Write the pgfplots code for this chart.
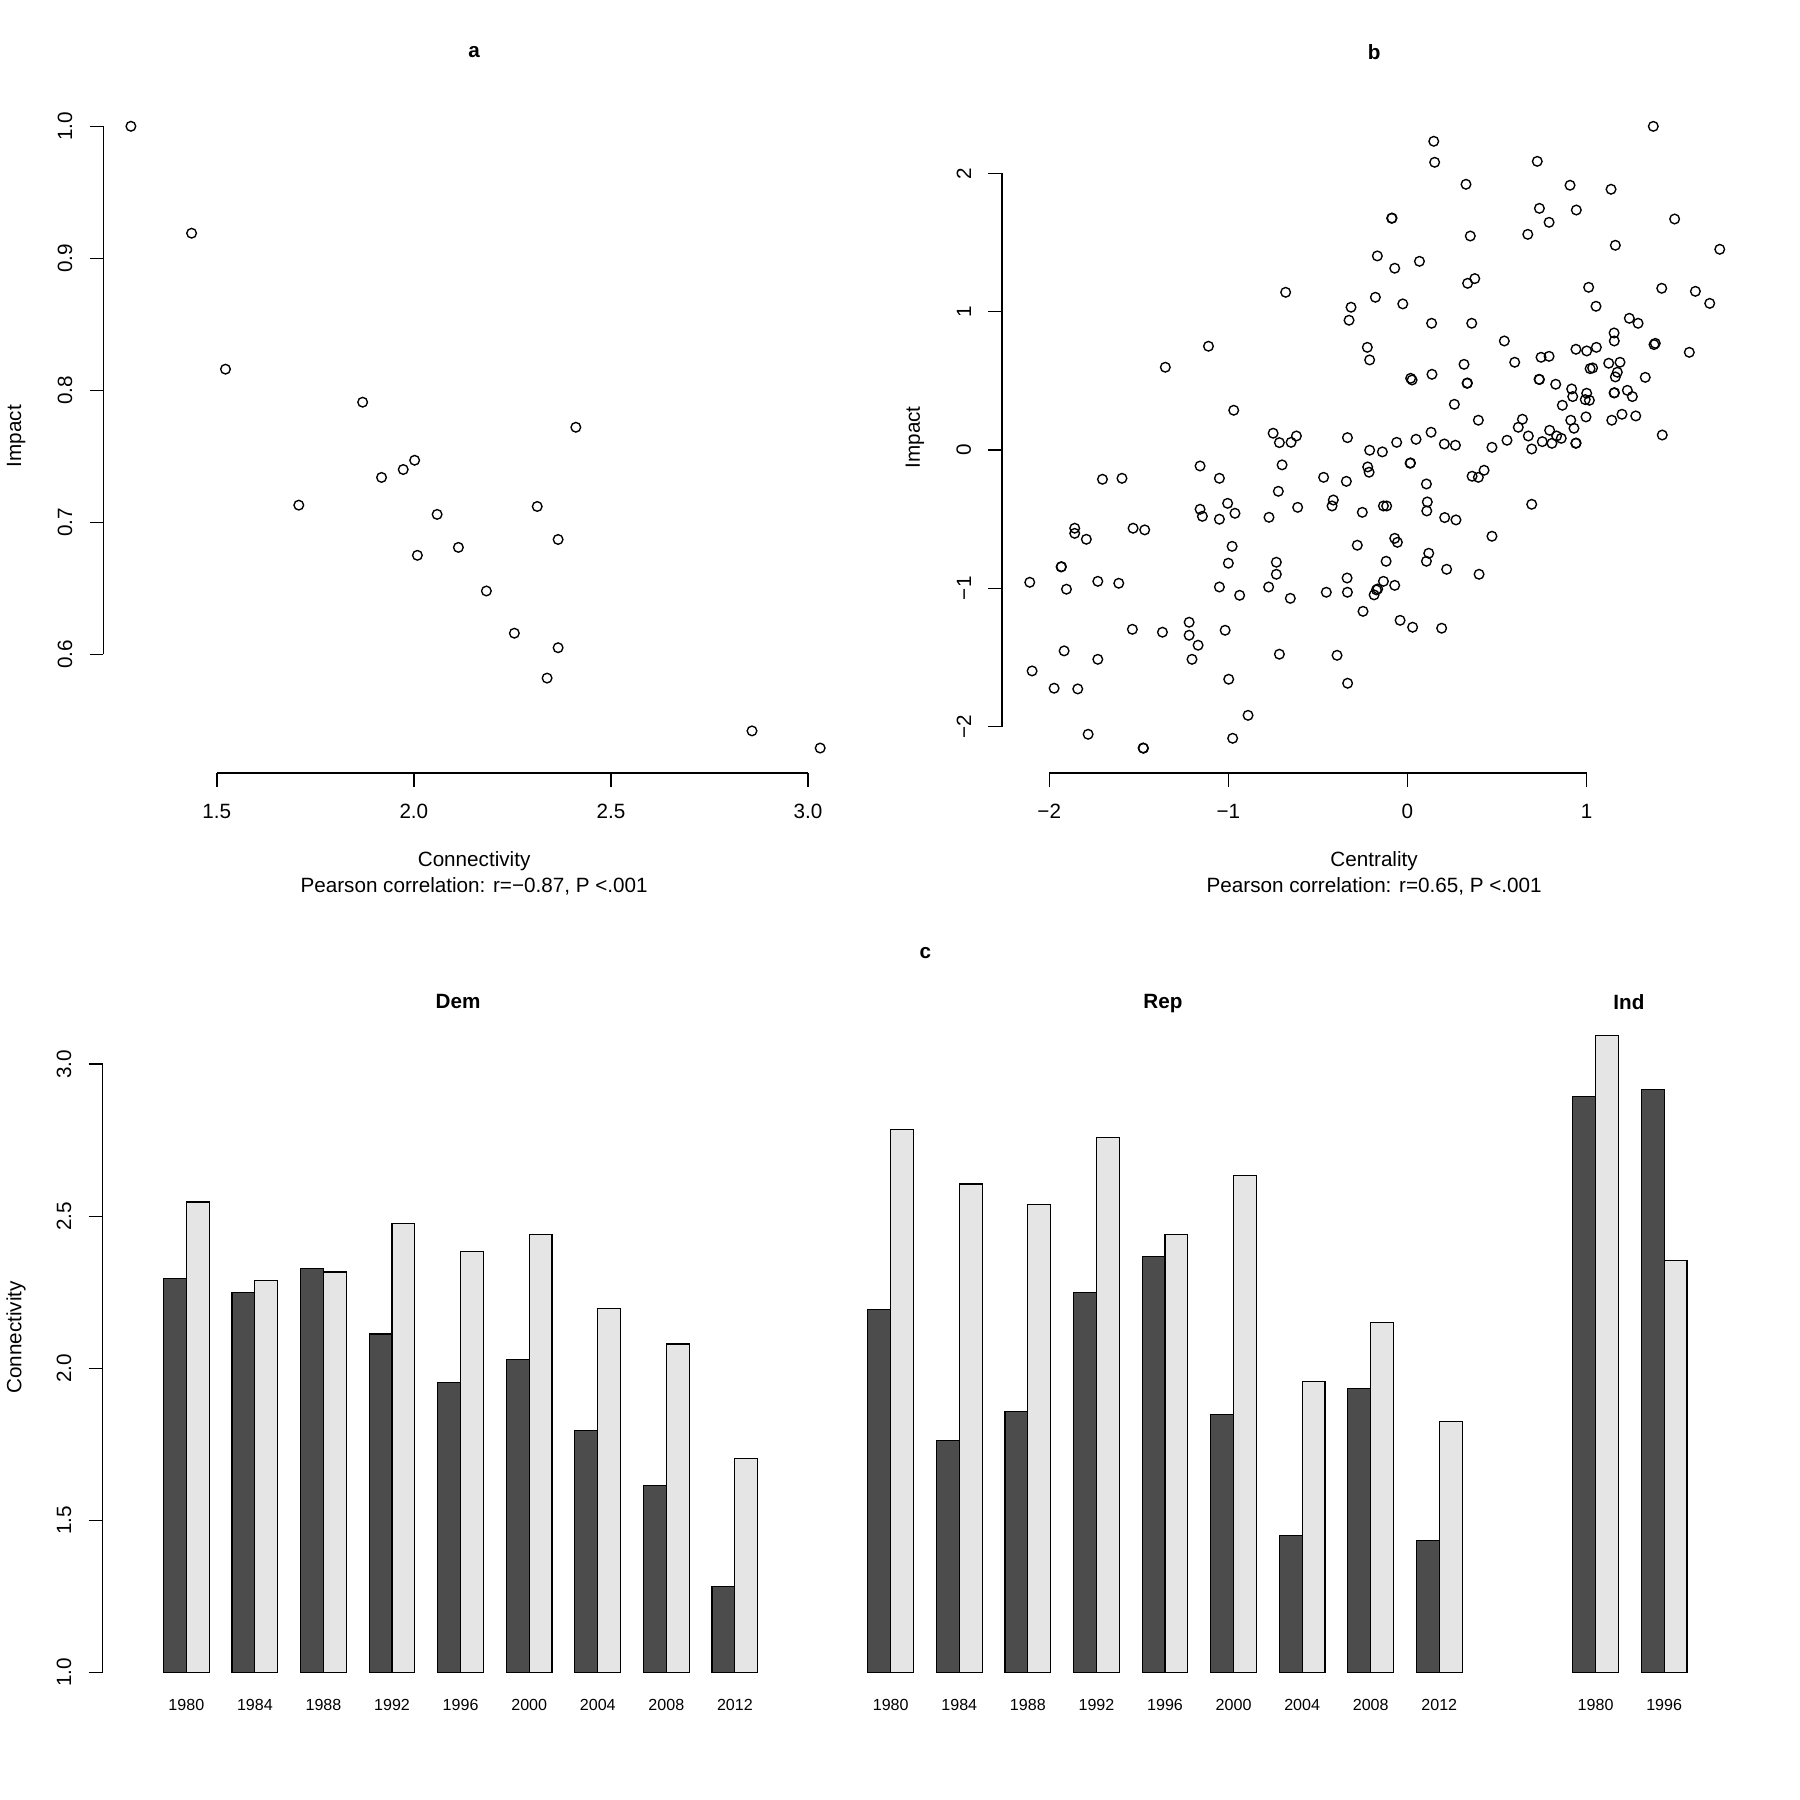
\documentclass[border=0pt]{standalone}
\usepackage{fontspec}
\setmainfont{Liberation Sans}
\usepackage{pgfplots}
\pgfplotsset{compat=1.18}

\newcommand{\fs}{\fontsize{9}{10.8}\selectfont}
\newcommand{\fsy}{\fontsize{7}{8.4}\selectfont}
\definecolor{bardark}{gray}{0.30}
\definecolor{barlight}{gray}{0.90}

\pgfplotsset{
  rbase/.style={
    scale only axis, anchor=south west,
    axis line style={draw=none},
    tick align=outside, major tick length=6pt,
    tick style={black, line width=0.6pt},
    tick pos=left,
    tick label style={font=\fs},
    yticklabel style={rotate=90, anchor=south},
    xticklabel shift=4pt, yticklabel shift=4pt,
  },
  scat/.style={only marks, mark=o, mark size=2.1pt,
    mark options={line width=0.6pt, draw=black}},
  bars/.style={
    rbase, xmin=-1.667, xmax=29.667, ymin=1, ymax=3.2,
    height=291.5pt, clip mode=individual,
    xtick={2,5,8,11,14,17,20,23,26},
    xtick style={draw=none},
    xticklabel style={font=\fsy}, xticklabel shift=2pt,
  },
  darkbar/.style={ybar, bar width=1, bar shift=0pt, fill=bardark, draw=black, line width=0.5pt},
  lightbar/.style={ybar, bar width=1, bar shift=0pt, fill=barlight, draw=black, line width=0.5pt},
}

\begin{document}
\begin{tikzpicture}
\useasboundingbox (0,0) rectangle (784pt,784pt);

% ---------------- panel a ----------------
\begin{axis}[rbase, at={(45pt,447.25pt)}, width=324.25pt, height=293pt,
  xmin=1.212, xmax=3.101, ymin=0.510, ymax=1.0196, clip=false,
  xtick={1.5,2,2.5,3}, xticklabels={1.5,2.0,2.5,3.0},
  ytick={0.6,0.7,0.8,0.9,1.0}, yticklabels={0.6,0.7,0.8,0.9,1.0}]
\addplot[scat] table {
x y
1.282 1.000
1.436 0.919
1.522 0.816
1.708 0.713
1.870 0.791
1.918 0.734
1.973 0.740
2.002 0.747
2.059 0.706
2.009 0.675
2.113 0.681
2.184 0.648
2.255 0.616
2.313 0.712
2.366 0.687
2.366 0.605
2.338 0.582
2.411 0.772
2.858 0.542
3.031 0.529
};
\draw[line width=0.7pt] (axis cs:1.5,0.510) -- (axis cs:3,0.510);
\draw[line width=0.7pt] (axis cs:1.212,0.6) -- (axis cs:1.212,1);
\end{axis}

% ---------------- panel b ----------------
\begin{axis}[rbase, at={(436.5pt,447.25pt)}, width=324.55pt, height=292.55pt,
  xmin=-2.263, xmax=1.898, ymin=-2.337, ymax=2.520, clip=false,
  xtick={-2,-1,0,1}, xticklabels={−2,−1,0,1},
  ytick={-2,-1,0,1,2}, yticklabels={−2,−1,0,1,2}]
\addplot[scat] table {
x y
-0.168 1.403
-0.680 1.140
-0.179 1.104
-0.315 1.032
-0.326 0.938
-1.111 0.750
-0.224 0.742
-0.211 0.651
-1.352 0.598
-0.970 0.287
-0.750 0.121
-0.715 0.053
-0.650 0.055
-0.620 0.101
-0.335 0.089
1.373 2.340
0.147 2.232
0.152 2.080
0.725 2.087
0.327 1.921
0.908 1.914
1.137 1.885
-0.088 1.675
-0.086 1.677
0.737 1.747
0.943 1.735
0.791 1.646
1.492 1.670
0.351 1.547
0.672 1.559
1.161 1.480
1.744 1.451
-0.071 1.314
0.067 1.364
0.376 1.239
0.336 1.205
-0.026 1.056
1.012 1.176
1.420 1.169
1.608 1.147
1.688 1.060
1.053 1.039
0.135 0.916
0.359 0.916
1.239 0.952
1.288 0.916
1.154 0.846
1.155 0.788
0.541 0.788
1.377 0.762
1.384 0.771
1.574 0.706
0.941 0.728
1.001 0.716
1.055 0.742
0.599 0.634
0.746 0.670
0.791 0.677
1.124 0.627
1.187 0.634
0.316 0.619
0.018 0.518
0.026 0.506
0.137 0.547
0.333 0.482
0.335 0.484
0.735 0.511
0.737 0.509
1.020 0.588
1.034 0.593
1.172 0.562
1.161 0.528
1.328 0.525
0.828 0.475
0.917 0.441
0.923 0.386
1.001 0.410
0.993 0.364
1.016 0.359
1.154 0.412
1.156 0.414
1.228 0.431
1.256 0.386
0.262 0.330
0.865 0.323
0.396 0.215
0.642 0.222
0.619 0.164
0.912 0.215
0.930 0.157
0.997 0.239
1.141 0.215
1.198 0.258
1.275 0.246
1.423 0.108
0.132 0.128
0.048 0.077
-0.060 0.055
0.675 0.101
0.794 0.142
0.833 0.101
0.859 0.084
0.556 0.070
0.753 0.060
0.807 0.048
0.940 0.048
0.942 0.050
0.206 0.043
0.268 0.034
0.472 0.019
0.694 0.007
-0.140 -0.014
0.015 -0.096
0.017 -0.094
0.106 -0.246
0.361 -0.190
0.396 -0.198
0.428 -0.147
-0.134 -0.405
-0.116 -0.405
0.111 -0.376
0.108 -0.441
0.208 -0.489
0.271 -0.506
0.694 -0.393
-0.071 -0.639
-0.056 -0.668
0.472 -0.624
-0.119 -0.805
0.119 -0.747
0.106 -0.805
0.219 -0.863
0.400 -0.899
-0.134 -0.950
-0.071 -0.979
-0.041 -1.232
0.029 -1.282
0.191 -1.289
-0.211 -0.002
-1.158 -0.116
-1.050 -0.205
-1.703 -0.212
-1.594 -0.205
-0.700 -0.108
-0.468 -0.198
-0.341 -0.227
-0.222 -0.123
-0.214 -0.161
-0.721 -0.299
-0.414 -0.362
-0.421 -0.405
-1.158 -0.429
-1.145 -0.480
-1.004 -0.386
-0.963 -0.458
-1.050 -0.501
-0.773 -0.487
-0.613 -0.415
-0.252 -0.451
-1.858 -0.566
-1.858 -0.603
-1.793 -0.646
-1.532 -0.566
-1.467 -0.578
-0.280 -0.689
-0.979 -0.697
-1.000 -0.819
-0.732 -0.812
-0.732 -0.899
-0.337 -0.926
-1.934 -0.846
-1.932 -0.844
-2.109 -0.957
-1.904 -1.007
-1.729 -0.950
-1.612 -0.964
-1.050 -0.991
-0.937 -1.051
-0.775 -0.991
-0.654 -1.073
-0.453 -1.029
-0.335 -1.029
-0.173 -1.012
-0.186 -1.048
-0.166 -1.005
-0.248 -1.167
-1.219 -1.246
-1.219 -1.340
-1.169 -1.412
-1.203 -1.514
-1.018 -1.304
-1.368 -1.318
-1.536 -1.297
-0.715 -1.477
-0.393 -1.485
-1.917 -1.453
-1.729 -1.514
-2.096 -1.598
-1.973 -1.723
-1.841 -1.728
-0.998 -1.658
-0.334 -1.687
-0.890 -1.919
-1.783 -2.056
-0.976 -2.085
-1.474 -2.157
-1.476 -2.155
};
\draw[line width=0.7pt] (axis cs:-2,-2.337) -- (axis cs:1,-2.337);
\draw[line width=0.7pt] (axis cs:-2.263,-2) -- (axis cs:-2.263,2);
\end{axis}

% ---------------- panel c: Dem ----------------
\begin{axis}[bars, at={(44.65pt,55.5pt)}, width=311.95pt,
  ytick={1,1.5,2,2.5,3}, yticklabels={1.0,1.5,2.0,2.5,3.0},
  xticklabels={1980,1984,1988,1992,1996,2000,2004,2008,2012}]
\addplot[darkbar] coordinates {(1.5,2.295) (4.5,2.248) (7.5,2.329) (10.5,2.113)
  (13.5,1.953) (16.5,2.029) (19.5,1.797) (22.5,1.614) (25.5,1.283)};
\addplot[lightbar] coordinates {(2.5,2.547) (5.5,2.289) (8.5,2.317) (11.5,2.475)
  (14.5,2.383) (17.5,2.441) (20.5,2.197) (23.5,2.080) (26.5,1.704)};
\draw[line width=0.7pt] (axis cs:-1.667,1) -- (axis cs:-1.667,3);
\end{axis}

% ---------------- panel c: Rep ----------------
\begin{axis}[bars, at={(351.45pt,55.5pt)}, width=311.95pt, ytick=\empty,
  xticklabels={1980,1984,1988,1992,1996,2000,2004,2008,2012}]
\addplot[darkbar] coordinates {(1.5,2.194) (4.5,1.764) (7.5,1.857) (10.5,2.250)
  (13.5,2.368) (16.5,1.847) (19.5,1.451) (22.5,1.934) (25.5,1.435)};
\addplot[lightbar] coordinates {(2.5,2.786) (5.5,2.606) (8.5,2.540) (11.5,2.758)
  (14.5,2.441) (17.5,2.633) (20.5,1.956) (23.5,2.152) (26.5,1.824)};
\end{axis}

% ---------------- panel c: Ind ----------------
\begin{axis}[bars, at={(675.05pt,55.5pt)}, width=69.7pt, xmin=0, xmax=7, ytick=\empty,
  xtick={2,5}, xticklabels={1980,1996}]
\addplot[darkbar] coordinates {(1.5,2.893) (4.5,2.917)};
\addplot[lightbar] coordinates {(2.5,3.094) (5.5,2.354)};
\end{axis}

% ---------------- titles and axis labels ----------------
\node[font=\fs\bfseries] at (206.5pt,761.5pt) {a};
\node[font=\fs\bfseries] at (598.5pt,761.5pt) {b};
\node[font=\fs] at (206.5pt,409pt) {Connectivity};
\node[font=\fs] at (206.5pt,398pt) {Pearson correlation: r=−0.87, P <.001};
\node[font=\fs] at (598.5pt,409pt) {Centrality};
\node[font=\fs] at (598.5pt,398pt) {Pearson correlation: r=0.65, P <.001};
\node[font=\fs, rotate=90] at (7pt,594pt) {Impact};
\node[font=\fs, rotate=90] at (398.5pt,593.5pt) {Impact};
\node[font=\fs\bfseries] at (403pt,369pt) {c};
\node[font=\fs\bfseries] at (199.5pt,348pt) {Dem};
\node[font=\fs\bfseries] at (506.5pt,347pt) {Rep};
\node[font=\fs\bfseries] at (709.5pt,347.5pt) {Ind};
\node[font=\fs, rotate=90] at (7pt,201.5pt) {Connectivity};
\end{tikzpicture}
\end{document}
